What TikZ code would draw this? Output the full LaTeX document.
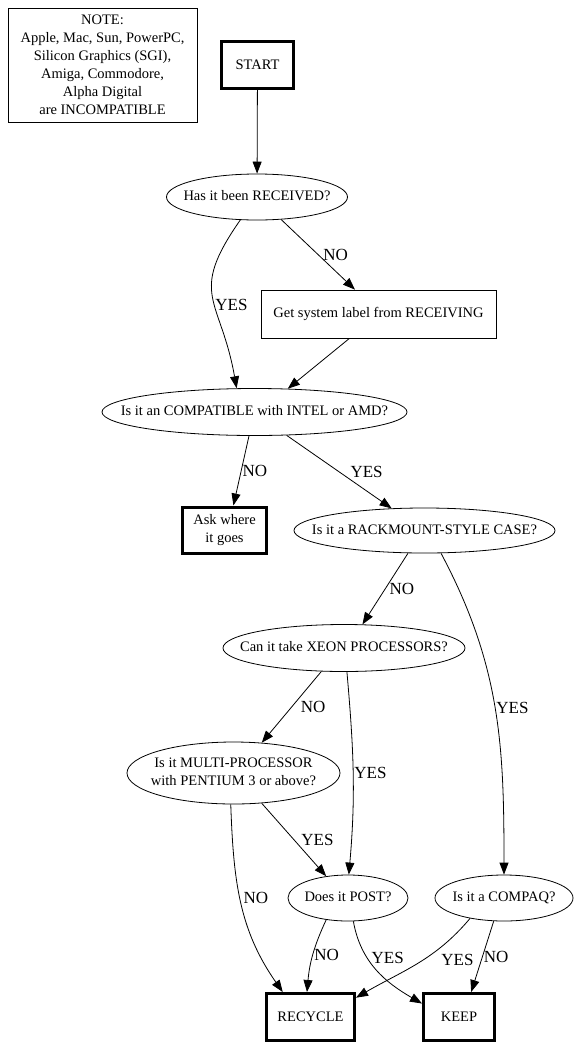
\documentclass[tikz,border=0pt]{standalone}
\usepackage{fontspec}
\setmainfont{Liberation Serif}
\usetikzlibrary{arrows.meta,positioning,shapes.geometric}
\newcommand{\qtext}[1]{\makebox[0pt]{\begin{tabular}{@{}c@{}}#1\end{tabular}}}
\tikzset{
  block/.style={draw=black, line width=0.8pt, align=center, inner sep=0pt, font=\fontsize{14.5}{18}\selectfont},
  stopbox/.style={block, line width=3pt},
  decision/.style={ellipse, draw=black, line width=0.8pt, inner sep=0pt, font=\fontsize{14.5}{18}\selectfont},
  signal/.style={-{Triangle[length=12pt, width=9pt]}, line width=0.8pt, draw=black},
  answer/.style={font=\fontsize{17}{20}\selectfont, inner sep=1pt, anchor=west}
}

\begin{document}
\begin{tikzpicture}[x=1pt, y=1pt]
  \useasboundingbox (0,0) rectangle (582,-1047);
  \node[block, minimum width=189pt, minimum height=114pt] (note) at (102.5,-65) {NOTE:\\Apple, Mac, Sun, PowerPC,\\Silicon Graphics (SGI),\\Amiga, Commodore,\\Alpha Digital\\are INCOMPATIBLE};
  \node[stopbox, minimum width=72pt, minimum height=47pt] (start) at (257.5,-65) {START};
  \node[decision, minimum width=181pt, minimum height=46pt] (recv) at (257,-197) {\qtext{Has it been RECEIVED?}};
  \node[block, minimum width=235pt, minimum height=48pt] (getlabel) at (378.5,-314) {Get system label from RECEIVING};
  \node[decision, minimum width=305pt, minimum height=47pt] (compat) at (254.5,-412) {\qtext{Is it an COMPATIBLE with INTEL or AMD?}};
  \node[stopbox, minimum width=84pt, minimum height=46pt] (ask) at (224.5,-530) {Ask where\\it goes};
  \node[decision, minimum width=261pt, minimum height=45pt] (rack) at (424.5,-530.5) {\qtext{Is it a RACKMOUNT-STYLE CASE?}};
  \node[decision, minimum width=242pt, minimum height=47pt] (xeon) at (344,-648) {\qtext{Can it take XEON PROCESSORS?}};
  \node[decision, minimum width=213pt, minimum height=62pt] (multi) at (233.5,-773) {\qtext{Is it MULTI-PROCESSOR\\with PENTIUM 3 or above?}};
  \node[decision, minimum width=120pt, minimum height=46pt] (post) at (348,-898) {\qtext{Does it POST?}};
  \node[decision, minimum width=138pt, minimum height=46pt] (compaq) at (504,-898) {\qtext{Is it a COMPAQ?}};
  \node[stopbox, minimum width=88pt, minimum height=47pt] (recycle) at (310.5,-1017) {RECYCLE};
  \node[stopbox, minimum width=71pt, minimum height=47pt] (keep) at (459,-1017) {KEEP};

  \draw[signal] (start) -- (recv);
  \draw[signal] (recv.234) to[out=-125, in=100, looseness=1.4] node[answer, pos=0.55] {YES} (compat.127);
  \draw[signal] (recv.317) -- node[answer, pos=0.5, xshift=4pt] {NO} (getlabel.134);
  \draw[signal] (getlabel.220) -- (compat.35);
  \draw[signal] (compat.257) -- node[answer, pos=0.5] {NO} (ask.70);
  \draw[signal] (compat.324) -- node[answer, pos=0.5, xshift=10pt] {YES} (rack.146);
  \draw[signal] (rack.234) -- node[answer, pos=0.5, xshift=3pt] {NO} (xeon.52);
  \draw[signal] (rack.306) to[out=-62, in=90] node[answer, pos=0.5] {YES} (compaq.north);
  \draw[signal] (xeon.226) -- node[answer, pos=0.5, xshift=8pt] {NO} (multi.47);
  \draw[signal] (xeon.277) to[out=-85, in=85] node[answer, pos=0.5] {YES} (post.88);
  \draw[signal] (multi.313) -- node[answer, pos=0.5, xshift=6pt] {YES} (post.135);
  \draw[signal] (multi.265) to[out=-88, in=125] node[answer, pos=0.47, xshift=2pt] {NO} (recycle.138);
  \draw[signal] (post.225) to[out=-115, in=85] node[answer, pos=0.5] {NO} (recycle.98);
  \draw[signal] (post.283) to[out=-80, in=150] node[answer, pos=0.35, xshift=3pt] {YES} (keep.160);
  \draw[signal] (compaq.211) to[out=-130, in=30] node[answer, pos=0.45, xshift=17pt] {YES} (recycle.23);
  \draw[signal] (compaq.246) -- node[answer, pos=0.5] {NO} (keep.64);
\end{tikzpicture}
\end{document}
